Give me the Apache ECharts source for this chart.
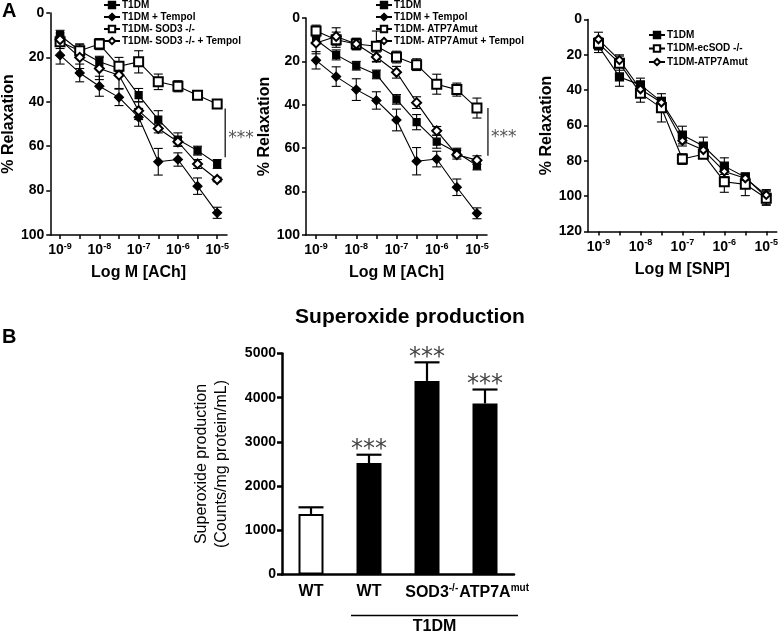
<!DOCTYPE html>
<html><head><meta charset="utf-8">
<script src="https://cdn.jsdelivr.net/npm/echarts@6/dist/echarts.min.js"></script>
<style>html,body{margin:0;padding:0;background:#fff}#c{width:781px;height:633px}</style>
</head><body><div id="c"></div>
<script>
// ---------- data ----------
const doseCats = ['-9','-8.5','-8','-7.5','-7','-6.5','-6','-5.5','-5'];
const doseTickLabels = ['10{s|-9}','','10{s|-8}','','10{s|-7}','','10{s|-6}','','10{s|-5}'];

// Panel A1: ACh, SOD3
const p1_t1dm = [10, 17, 22, 25, 37, 48, 57, 62, 68];
const p1_t1dm_err = [2.2, 3, 2.5, 3, 3, 4, 3, 2, 2];
const p1_tempol = [19, 27, 33, 38, 47, 67, 66, 78, 90];
const p1_tempol_err = [4, 4, 4.5, 3.7, 4, 6, 3, 3.7, 2.5];
const p1_sod3 = [13, 17, 14, 24, 22, 31, 33, 37, 41];
const p1_sod3_err = [3, 3, 2.5, 4, 5, 3.5, 2.5, 1.5, 1];
const p1_sod3t = [12, 20, 25, 28, 44, 52, 58, 68, 75];
const p1_sod3t_err = [3, 5, 5, 6, 4, 2, 2, 2, 1];

// Panel A2: ACh, ATP7A
const p2_t1dm = [10, 17, 22, 26, 37.5, 48, 57, 62, 68];
const p2_t1dm_err = [2, 2.3, 2, 2, 2.2, 3.5, 3, 2, 2];
const p2_tempol = [19.5, 27, 33, 38, 47, 66, 65, 78, 90];
const p2_tempol_err = [4, 4.5, 5, 4, 5, 6.3, 3.6, 3.8, 2.5];
const p2_atp = [6, 10, 12, 13, 18, 21.5, 30.5, 33, 41.5];
const p2_atp_err = [2.7, 3.5, 2.5, 7, 2.7, 2.7, 4.6, 3, 4.6];
const p2_atpt = [11.5, 8.5, 12, 18, 25, 39, 52, 63, 65.5];
const p2_atpt_err = [5, 4, 2.7, 2.3, 2.7, 2.7, 2, 2, 2];

// Panel A3: SNP
const p3_t1dm = [15, 32.5, 37, 46.5, 65.4, 71.6, 83, 89.3, 100.6];
const p3_t1dm_err = [3.7, 5.3, 3.8, 2, 5, 5, 4.7, 2, 4];
const p3_ecsod = [13.5, 24.7, 41.8, 50, 79, 76.3, 91.8, 93.3, 101.2];
const p3_ecsod_err = [3, 4, 5, 8, 3, 2, 6, 6.4, 4];
const p3_atp = [11.2, 23, 39.5, 47, 68.6, 73.9, 86, 89.9, 99.3];
const p3_atp_err = [4, 3, 4, 3, 3, 3, 3, 3, 3];

// Panel B: superoxide
const b_cats = ['WT', 'WT ', 'SOD3', 'ATP7A'];
const b_labels = ['WT', 'WT', '{h|-/-}SOD3{s|-/-}', '{h|mut}ATP7A{s|mut}'];
const b_vals = [1370, 2520, 4380, 3870];
const b_err = [150, 190, 420, 315];
const b_sig = ['', '***', '***', '***'];

// ---------- helpers ----------
const FF = 'Liberation Sans, Arial, sans-serif';
const K = '#000';

function lineSeries(name, gi, data, symbol, size) {
  return {
    name, type: 'line', xAxisIndex: gi, yAxisIndex: gi, data,
    symbol, symbolSize: size, z: 3,
    itemStyle: { color: K, borderColor: K, borderWidth: 1.2 },
    lineStyle: { color: K, width: 1.1 },
    emphasis: { disabled: true }, animation: false
  };
}
function errSeries(gi, vals, errs) {
  return {
    type: 'custom', xAxisIndex: gi, yAxisIndex: gi, z: 2, silent: true, animation: false,
    data: vals.map((v, i) => [i, v, errs[i]]),
    renderItem: function (params, api) {
      const i = api.value(0), v = api.value(1), e = api.value(2);
      const top = api.coord([i, v - e]), bot = api.coord([i, v + e]);
      const w = 4.5;
      const st = { stroke: K, lineWidth: 1.1 };
      return { type: 'group', children: [
        { type: 'line', shape: { x1: top[0], y1: top[1], x2: bot[0], y2: bot[1] }, style: st },
        { type: 'line', shape: { x1: top[0] - w, y1: top[1], x2: top[0] + w, y2: top[1] }, style: st },
        { type: 'line', shape: { x1: bot[0] - w, y1: bot[1], x2: bot[0] + w, y2: bot[1] }, style: st }
      ]};
    }
  };
}
function doseX(gi, title) {
  return {
    gridIndex: gi, type: 'category', data: doseCats, boundaryGap: true, position: 'bottom',
    axisLine: { onZero: false, lineStyle: { color: K, width: 1.5 } },
    axisTick: { show: true, alignWithLabel: true, interval: 0, length: 4, lineStyle: { color: K, width: 1.5 } },
    axisLabel: {
      interval: 0, margin: 7, color: K, fontFamily: FF, fontWeight: 'bold', fontSize: 14,
      formatter: (v, i) => doseTickLabels[i],
      rich: { s: { fontSize: 9, fontWeight: 'bold', fontFamily: FF, color: K, padding: [0, 0, 8, 0] } }
    },
    name: title, nameLocation: 'middle', nameGap: 30,
    nameTextStyle: { color: K, fontFamily: FF, fontWeight: 'bold', fontSize: 16 }
  };
}
function relY(gi, max) {
  return {
    gridIndex: gi, type: 'value', inverse: true, min: 0, max, interval: 20,
    axisLine: { show: true, onZero: false, lineStyle: { color: K, width: 1.5 } },
    axisTick: { show: true, length: 4, lineStyle: { color: K, width: 1.5 } },
    splitLine: { show: false },
    axisLabel: { color: K, fontFamily: FF, fontWeight: 'bold', fontSize: 14, margin: 6 },
    name: '% Relaxation', nameLocation: 'middle', nameGap: 23,
    nameTextStyle: { color: K, fontFamily: FF, fontWeight: 'bold', fontSize: 16 }
  };
}
function legend(names, left, top, gap) {
  return {
    data: names, orient: 'vertical', left, top, itemGap: gap, padding: 0,
    itemWidth: 16, itemHeight: 8, selectedMode: false,
    textStyle: { color: K, fontFamily: FF, fontWeight: 'bold', fontSize: 10, lineHeight: 12, padding: [0, 0, 0, -3] }
  };
}

const chart = echarts.init(document.getElementById('c'));

const option = {
  backgroundColor: '#fff',
  animation: false,
  title: {
    text: 'Superoxide production', left: 405, top: 302, textAlign: 'center',
    textStyle: { color: K, fontFamily: FF, fontWeight: 'bold', fontSize: 21 }
  },
  grid: [
    { left: 47, top: 13, width: 180, height: 222 },
    { left: 306, top: 18, width: 181, height: 217 },
    { left: 588, top: 19.5, width: 190, height: 212 },
    { left: 282, top: 353.5, width: 232, height: 221 }
  ],
  legend: [
    legend(['T1DM', 'T1DM + Tempol', 'T1DM- SOD3 -/-', 'T1DM- SOD3 -/- + Tempol'], 103, -1, 0),
    legend(['T1DM', 'T1DM + Tempol', 'T1DM- ATP7Amut', 'T1DM- ATP7Amut + Tempol'], 375, -1, 0),
    legend(['T1DM', 'T1DM-ecSOD -/-', 'T1DM-ATP7Amut'], 648, 29, 1.5)
  ],
  xAxis: [
    doseX(0, 'Log M [ACh]'), doseX(1, 'Log M [ACh]'), doseX(2, 'Log M [SNP]'),
    {
      gridIndex: 3, type: 'category', data: b_cats,
      axisLine: { lineStyle: { color: K, width: 2.5 } },
      axisTick: { show: false },
      axisLabel: {
        interval: 0, margin: 9, color: K, fontFamily: FF, fontWeight: 'bold', fontSize: 16,
        formatter: (v, i) => b_labels[i],
        rich: {
          s: { fontSize: 10, fontWeight: 'bold', fontFamily: FF, color: K, padding: [0, 0, 9, 0] },
          h: { fontSize: 10, fontWeight: 'bold', fontFamily: FF, color: 'rgba(0,0,0,0)', padding: [0, 0, 9, 0] }
        }
      }
    }
  ],
  yAxis: [
    relY(0, 100), relY(1, 100), relY(2, 120),
    {
      gridIndex: 3, type: 'value', min: 0, max: 5000, interval: 1000,
      axisLine: { show: true, lineStyle: { color: K, width: 2.5 } },
      axisTick: { show: true, length: 5, lineStyle: { color: K, width: 2.5 } },
      splitLine: { show: false },
      axisLabel: { color: K, fontFamily: FF, fontWeight: 'bold', fontSize: 14, margin: 6, formatter: v => String(v) },
      name: 'Superoxide production\n(Counts/mg protein/mL)', nameLocation: 'middle', nameGap: 50,
      nameTextStyle: { color: K, fontFamily: FF, fontWeight: 'normal', fontSize: 16, lineHeight: 20 }
    }
  ],
  series: [
    errSeries(0, p1_t1dm, p1_t1dm_err), errSeries(0, p1_tempol, p1_tempol_err),
    errSeries(0, p1_sod3, p1_sod3_err), errSeries(0, p1_sod3t, p1_sod3t_err),
    lineSeries('T1DM', 0, p1_t1dm, 'rect', 7),
    lineSeries('T1DM + Tempol', 0, p1_tempol, 'diamond', 9),
    lineSeries('T1DM- SOD3 -/-', 0, p1_sod3, 'emptyRect', 9),
    lineSeries('T1DM- SOD3 -/- + Tempol', 0, p1_sod3t, 'emptyDiamond', 9),

    errSeries(1, p2_t1dm, p2_t1dm_err), errSeries(1, p2_tempol, p2_tempol_err),
    errSeries(1, p2_atp, p2_atp_err), errSeries(1, p2_atpt, p2_atpt_err),
    lineSeries('T1DM', 1, p2_t1dm, 'rect', 7),
    lineSeries('T1DM + Tempol', 1, p2_tempol, 'diamond', 9),
    lineSeries('T1DM- ATP7Amut', 1, p2_atp, 'emptyRect', 9),
    lineSeries('T1DM- ATP7Amut + Tempol', 1, p2_atpt, 'emptyDiamond', 9),

    errSeries(2, p3_t1dm, p3_t1dm_err), errSeries(2, p3_ecsod, p3_ecsod_err),
    errSeries(2, p3_atp, p3_atp_err),
    lineSeries('T1DM', 2, p3_t1dm, 'rect', 8),
    lineSeries('T1DM-ecSOD -/-', 2, p3_ecsod, 'emptyRect', 9),
    lineSeries('T1DM-ATP7Amut', 2, p3_atp, 'emptyDiamond', 8),

    {
      type: 'bar', xAxisIndex: 3, yAxisIndex: 3, barWidth: 25, z: 3,
      data: b_vals.map((v, i) => ({
        value: v,
        itemStyle: i === 0 ? { color: '#fff', borderColor: K, borderWidth: 2 } : { color: K }
      })),
      emphasis: { disabled: true }
    },
    {
      type: 'custom', xAxisIndex: 3, yAxisIndex: 3, z: 2, silent: true,
      data: b_vals.map((v, i) => [i, v, b_err[i]]),
      renderItem: function (params, api) {
        const i = api.value(0), v = api.value(1), e = api.value(2);
        const base = api.coord([i, v]), top = api.coord([i, v + e]);
        const w = 12.5;
        const st = { stroke: K, lineWidth: 2.2 };
        const ch = [
          { type: 'line', shape: { x1: base[0], y1: base[1], x2: top[0], y2: top[1] }, style: st },
          { type: 'line', shape: { x1: top[0] - w, y1: top[1], x2: top[0] + w, y2: top[1] }, style: st }
        ];
        if (b_sig[i]) ch.push({ type: 'text', style: {
          text: b_sig[i], x: top[0], y: top[1] - 5, align: 'center', verticalAlign: 'middle',
          fill: '#444', font: '24px DejaVu Sans'
        }});
        return { type: 'group', children: ch };
      }
    }
  ]
};
chart.setOption(option);

// annotations positioned through the axes
const g = [];
g.push({ type: 'text', left: 2, top: 1, style: { text: 'A', fill: K, font: 'bold 20px ' + FF } });
g.push({ type: 'text', left: 2, top: 327, style: { text: 'B', fill: K, font: 'bold 20px ' + FF } });
function sigBar(gi, dx, v1, v2) {
  const x = chart.convertToPixel({ xAxisIndex: gi }, '-5') + dx;
  const y1 = chart.convertToPixel({ yAxisIndex: gi }, v1);
  const y2 = chart.convertToPixel({ yAxisIndex: gi }, v2);
  g.push({ type: 'line', shape: { x1: x, y1, x2: x, y2 }, style: { stroke: K, lineWidth: 1.2 } });
  g.push({ type: 'text', x: x + 3, y: (y1 + y2) / 2 + 6, style: { text: '***', fill: '#555', font: '17px DejaVu Sans', verticalAlign: 'middle' } });
}
sigBar(0, 8, 43, 65);
sigBar(1, 11, 41.5, 63.5);
const xa = chart.convertToPixel({ xAxisIndex: 3 }, 'WT ') - 18;
const xb = chart.convertToPixel({ xAxisIndex: 3 }, 'ATP7A') + 33;
g.push({ type: 'line', shape: { x1: xa, y1: 615.5, x2: xb, y2: 615.5 }, style: { stroke: K, lineWidth: 1.5 } });
g.push({ type: 'text', x: (xa + xb) / 2, y: 627, style: { text: 'T1DM', fill: K, font: 'bold 16px ' + FF, align: 'center', verticalAlign: 'middle' } });
chart.setOption({ graphic: g });
</script>
</body></html>
